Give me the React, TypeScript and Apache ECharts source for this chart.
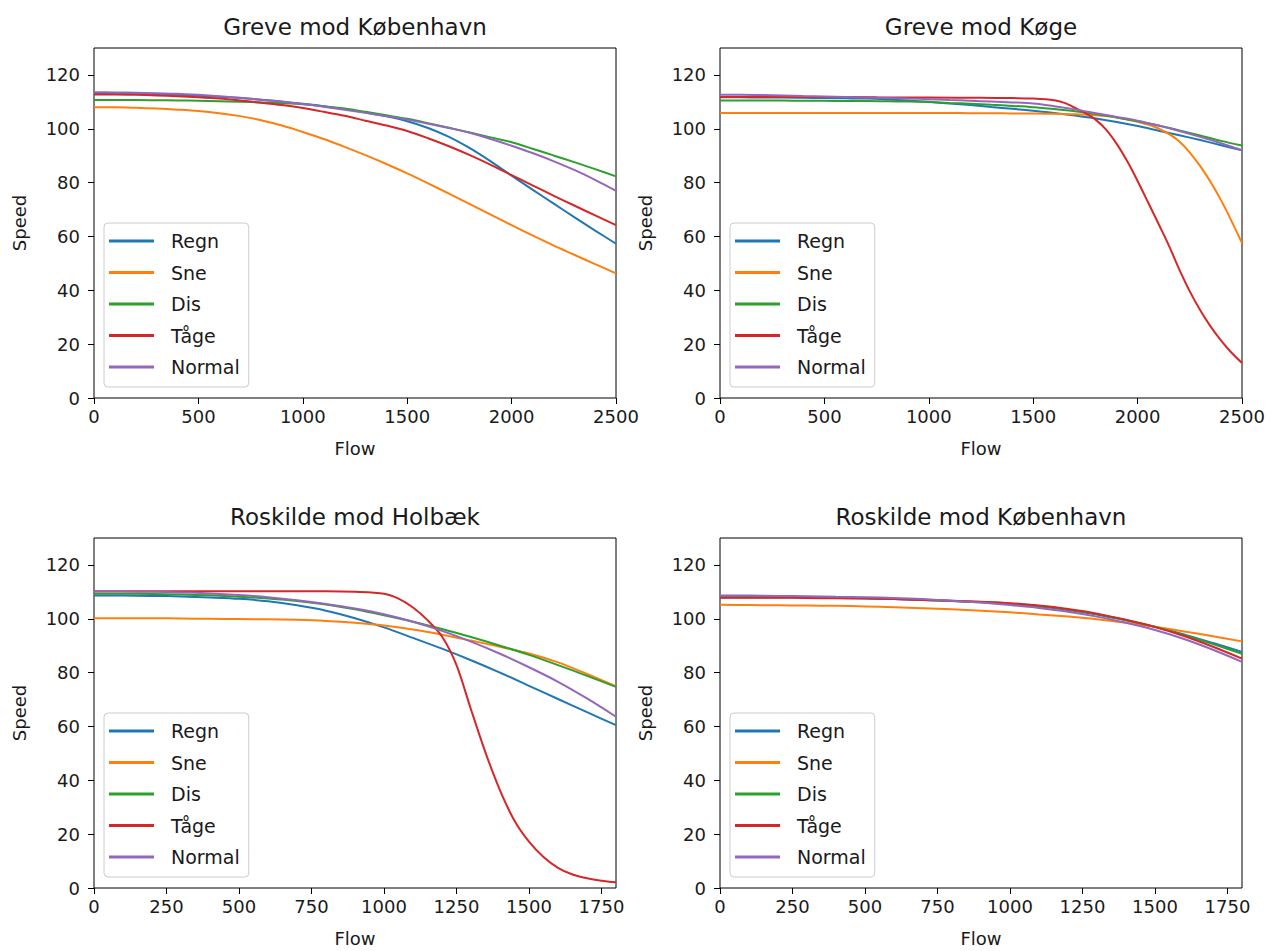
import React, { useEffect, useRef } from "react";
import * as echarts from "echarts";

const NAMES = ["Regn", "Sne", "Dis", "Tåge", "Normal"];
const COLORS = ["#1f77b4", "#ff7f0e", "#2ca02c", "#d62728", "#9467bd"];
const TITLES = ["Greve mod København", "Greve mod Køge", "Roskilde mod Holbæk", "Roskilde mod København"];

const FLOW_TOP = [0, 100, 200, 300, 400, 500, 600, 700, 800, 900, 1000, 1100, 1200, 1300, 1400, 1500, 1600, 1700, 1800, 1900, 2000, 2100, 2200, 2300, 2400, 2500];
const FLOW_BOTTOM = [0, 100, 200, 300, 400, 500, 600, 700, 800, 900, 1000, 1100, 1200, 1300, 1400, 1500, 1600, 1700, 1800];
const FLOW_GKO_TAGE = [0, 250, 500, 750, 1000, 1250, 1400, 1500, 1600, 1650, 1700, 1750, 1800, 1850, 1900, 1950, 2000, 2050, 2100, 2150, 2200, 2250, 2300, 2350, 2400, 2450, 2500];
const FLOW_RH_TAGE = [0, 200, 400, 600, 800, 900, 1000, 1050, 1100, 1150, 1200, 1250, 1300, 1350, 1400, 1450, 1500, 1550, 1600, 1650, 1700, 1750, 1800];

const Y_TICKS = [0, 20, 40, 60, 80, 100, 120];
const X_TICKS_TOP = [0, 500, 1000, 1500, 2000, 2500];
const X_TICKS_BOTTOM = [0, 250, 500, 750, 1000, 1250, 1500, 1750];

// Greve mod København
const GK_REGN = [113, 113, 112.9, 112.8, 112.6, 112.3, 111.9, 111.4, 110.8, 110.1, 109.3, 108.4, 107.3, 106, 104.6, 102.8, 100.3, 97, 92.8, 87.9, 82.6, 77.4, 72.3, 67.2, 62.2, 57.3];
const GK_SNE = [108, 108, 107.8, 107.5, 107.1, 106.6, 105.8, 104.7, 103.2, 101.2, 98.8, 96.2, 93.3, 90.2, 86.9, 83.4, 79.7, 75.9, 72, 68.1, 64.2, 60.4, 56.7, 53.2, 49.7, 46.3];
const GK_DIS = [110.7, 110.7, 110.7, 110.6, 110.5, 110.4, 110.2, 110, 109.8, 109.5, 109.1, 108.4, 107.5, 106.3, 105, 103.7, 102.1, 100.4, 98.6, 96.8, 95, 92.6, 90.1, 87.6, 85, 82.3];
const GK_TAGE = [112.7, 112.7, 112.6, 112.4, 112.1, 111.7, 111.2, 110.5, 109.7, 108.8, 107.7, 106.3, 104.8, 103, 101.2, 99.2, 96.5, 93.5, 90.2, 86.6, 82.8, 79, 75.2, 71.5, 67.8, 64.2];
const GK_NORMAL = [113.6, 113.5, 113.4, 113.2, 113, 112.6, 112.1, 111.5, 110.8, 110, 109.2, 108.2, 107.1, 105.9, 104.7, 103.4, 101.9, 100.3, 98.5, 96.2, 93.7, 91, 88, 84.7, 81, 76.9];

// Greve mod Køge
const GKO_REGN = [111.7, 111.7, 111.6, 111.6, 111.5, 111.4, 111.3, 111.2, 110.9, 110.5, 110, 109.4, 108.8, 108.1, 107.4, 106.7, 105.9, 104.9, 103.8, 102.5, 101, 99.3, 97.6, 95.8, 93.9, 92];
const GKO_SNE = [105.9, 105.9, 105.9, 105.9, 105.9, 105.9, 105.9, 105.9, 105.9, 105.9, 105.9, 105.9, 105.8, 105.8, 105.7, 105.7, 105.6, 105.4, 105, 104.2, 102.6, 100.1, 95.3, 86.1, 73.4, 57.5];
const GKO_DIS = [110.5, 110.5, 110.5, 110.5, 110.4, 110.4, 110.3, 110.3, 110.2, 110.1, 109.9, 109.6, 109.3, 108.9, 108.5, 108, 107.3, 106.5, 105.5, 104.2, 102.8, 101.2, 99.4, 97.5, 95.5, 93.8];
const GKO_TAGE = [111.8, 111.8, 111.8, 111.7, 111.6, 111.5, 111.4, 111.2, 110.6, 109.6, 107.8, 105.8, 103.3, 99.6, 94.4, 88, 80.6, 72.7, 64.7, 56.6, 47.7, 39.6, 32.6, 26.5, 21.3, 16.8, 13];
const GKO_NORMAL = [112.6, 112.6, 112.5, 112.4, 112.2, 112, 111.8, 111.6, 111.4, 111.2, 111, 110.7, 110.4, 110.1, 109.8, 109.4, 108.4, 107.2, 105.8, 104.4, 103, 101.2, 99.2, 97, 94.6, 92];

// Roskilde mod Holbæk
const RH_REGN = [108.6, 108.6, 108.5, 108.3, 107.9, 107.4, 106.5, 105, 103, 100.2, 96.8, 92.9, 88.9, 84.6, 80, 75.1, 70.2, 65.3, 60.5];
const RH_SNE = [100.2, 100.2, 100.2, 100.1, 100, 99.9, 99.8, 99.6, 99.2, 98.5, 97.5, 96, 94.1, 91.9, 89.6, 87.1, 83.8, 79.5, 74.9];
const RH_DIS = [109.3, 109.3, 109.2, 109, 108.7, 108.2, 107.5, 106.6, 105.3, 103.5, 101.3, 98.9, 96.2, 93.2, 90, 86.6, 82.8, 78.8, 74.7];
const RH_TAGE = [110.2, 110.2, 110.2, 110.2, 110.2, 110, 109.3, 107.5, 104.2, 99.5, 93.4, 82.8, 66.3, 50.3, 36.3, 25, 17.2, 11.5, 7.5, 5, 3.6, 2.7, 2.1];
const RH_NORMAL = [110.1, 110.1, 110, 109.8, 109.4, 108.8, 108, 106.9, 105.5, 103.8, 101.7, 98.9, 95.5, 91.5, 87, 82, 76.6, 70.4, 63.6];

// Roskilde mod København
const RK_REGN = [108, 108, 108, 107.9, 107.8, 107.6, 107.3, 107, 106.6, 106.1, 105.5, 104.6, 103.3, 101.6, 99.4, 97, 94.2, 91, 87.7];
const RK_SNE = [105.2, 105.1, 105, 104.9, 104.8, 104.6, 104.3, 103.9, 103.5, 103, 102.4, 101.6, 100.8, 99.8, 98.5, 97, 95.3, 93.5, 91.6];
const RK_DIS = [108, 108, 108, 107.9, 107.8, 107.6, 107.3, 107, 106.6, 106.2, 105.6, 104.7, 103.4, 101.7, 99.5, 97, 94, 90.6, 87];
const RK_TAGE = [107.8, 107.8, 107.8, 107.7, 107.6, 107.5, 107.3, 107, 106.7, 106.3, 105.8, 104.9, 103.6, 101.9, 99.6, 96.9, 93.6, 89.6, 85.2];
const RK_NORMAL = [108.6, 108.6, 108.5, 108.4, 108.2, 108, 107.7, 107.3, 106.7, 106, 105.1, 104, 102.6, 100.8, 98.5, 95.8, 92.5, 88.5, 84];

const PANELS = [
  { flows: [FLOW_TOP, FLOW_TOP, FLOW_TOP, FLOW_TOP, FLOW_TOP], xMax: 2500, xTicks: X_TICKS_TOP, values: [GK_REGN, GK_SNE, GK_DIS, GK_TAGE, GK_NORMAL] },
  { flows: [FLOW_TOP, FLOW_TOP, FLOW_TOP, FLOW_GKO_TAGE, FLOW_TOP], xMax: 2500, xTicks: X_TICKS_TOP, values: [GKO_REGN, GKO_SNE, GKO_DIS, GKO_TAGE, GKO_NORMAL] },
  { flows: [FLOW_BOTTOM, FLOW_BOTTOM, FLOW_BOTTOM, FLOW_RH_TAGE, FLOW_BOTTOM], xMax: 1800, xTicks: X_TICKS_BOTTOM, values: [RH_REGN, RH_SNE, RH_DIS, RH_TAGE, RH_NORMAL] },
  { flows: [FLOW_BOTTOM, FLOW_BOTTOM, FLOW_BOTTOM, FLOW_BOTTOM, FLOW_BOTTOM], xMax: 1800, xTicks: X_TICKS_BOTTOM, values: [RK_REGN, RK_SNE, RK_DIS, RK_TAGE, RK_NORMAL] },
];

const FONT = "DejaVu Sans";
const TXT = "#1a1a1a";

export default function App() {
  const ref = useRef<HTMLDivElement>(null);
  useEffect(() => {
    if (!ref.current) return;
    const chart = echarts.init(ref.current, null, { renderer: "svg" });
    const lefts = [94, 720, 94, 720];
    const tops = [48, 48, 538, 538];
    const W = 522;
    const H = 350;
    const grid: any[] = [];
    const xAxis: any[] = [];
    const yAxis: any[] = [];
    const series: any[] = [];
    const title: any[] = [];
    const legend: any[] = [];
    PANELS.forEach((p, gi) => {
      grid.push({
        left: lefts[gi], top: tops[gi], width: W, height: H,
        show: true, borderColor: "#000", borderWidth: 1, backgroundColor: "transparent",
      });
      title.push({
        text: TITLES[gi], left: lefts[gi] + W / 2, top: tops[gi] - 33, textAlign: "center", padding: 0,
        textStyle: { fontFamily: FONT, fontSize: 23, fontWeight: "normal", color: TXT },
      });
      xAxis.push({
        type: "value", gridIndex: gi, min: 0, max: p.xMax,
        name: "Flow", nameLocation: "middle", nameGap: 41,
        nameTextStyle: { fontFamily: FONT, fontSize: 18, color: TXT },
        axisLine: { show: false },
        axisTick: { show: true, inside: false, length: 6, customValues: p.xTicks, lineStyle: { color: "#000" } },
        axisLabel: {
          customValues: p.xTicks, fontFamily: FONT, fontSize: 18, color: TXT, margin: 9,
          formatter: (v: number) => String(v),
        },
        splitLine: { show: false },
      });
      yAxis.push({
        type: "value", gridIndex: gi, min: 0, max: 130,
        name: "Speed", nameLocation: "middle", nameGap: 66,
        nameTextStyle: { fontFamily: FONT, fontSize: 18, color: TXT },
        axisLine: { show: false },
        axisTick: { show: true, inside: false, length: 6, customValues: Y_TICKS, lineStyle: { color: "#000" } },
        axisLabel: {
          customValues: Y_TICKS, fontFamily: FONT, fontSize: 18, color: TXT, margin: 14,
          formatter: (v: number) => String(v),
        },
        splitLine: { show: false },
      });
      p.values.forEach((vals, si) => {
        const fl = p.flows[si];
        series.push({
          type: "line", name: NAMES[si], xAxisIndex: gi, yAxisIndex: gi,
          data: fl.map((f, i) => [f, vals[i]]),
          showSymbol: false, symbol: "none", smooth: 0.3,
          lineStyle: { color: COLORS[si], width: 2 },
          itemStyle: { color: COLORS[si] },
          z: 2 + si,
        });
      });
      legend.push({
        orient: "vertical", left: lefts[gi] + 10, top: tops[gi] + 175,
        data: NAMES.map((n) => ({ name: n, icon: "rect" })),
        itemWidth: 45, itemHeight: 3, itemGap: 9.5,
        padding: [7, 9, 9, 5],
        backgroundColor: "rgba(255,255,255,0.8)",
        borderColor: "#cccccc", borderWidth: 1, borderRadius: 4,
        selectedMode: false,
        textStyle: { fontFamily: FONT, fontSize: 19, color: TXT, lineHeight: 22, padding: [0, 0, 0, 12] },
      });
    });
    chart.setOption({
      animation: false,
      backgroundColor: "#ffffff",
      color: COLORS,
      title, grid, xAxis, yAxis, series, legend,
    });
    return () => chart.dispose();
  }, []);
  return <div ref={ref} style={{ position: "absolute", left: 0, top: 0, width: 1275, height: 951 }} />;
}
